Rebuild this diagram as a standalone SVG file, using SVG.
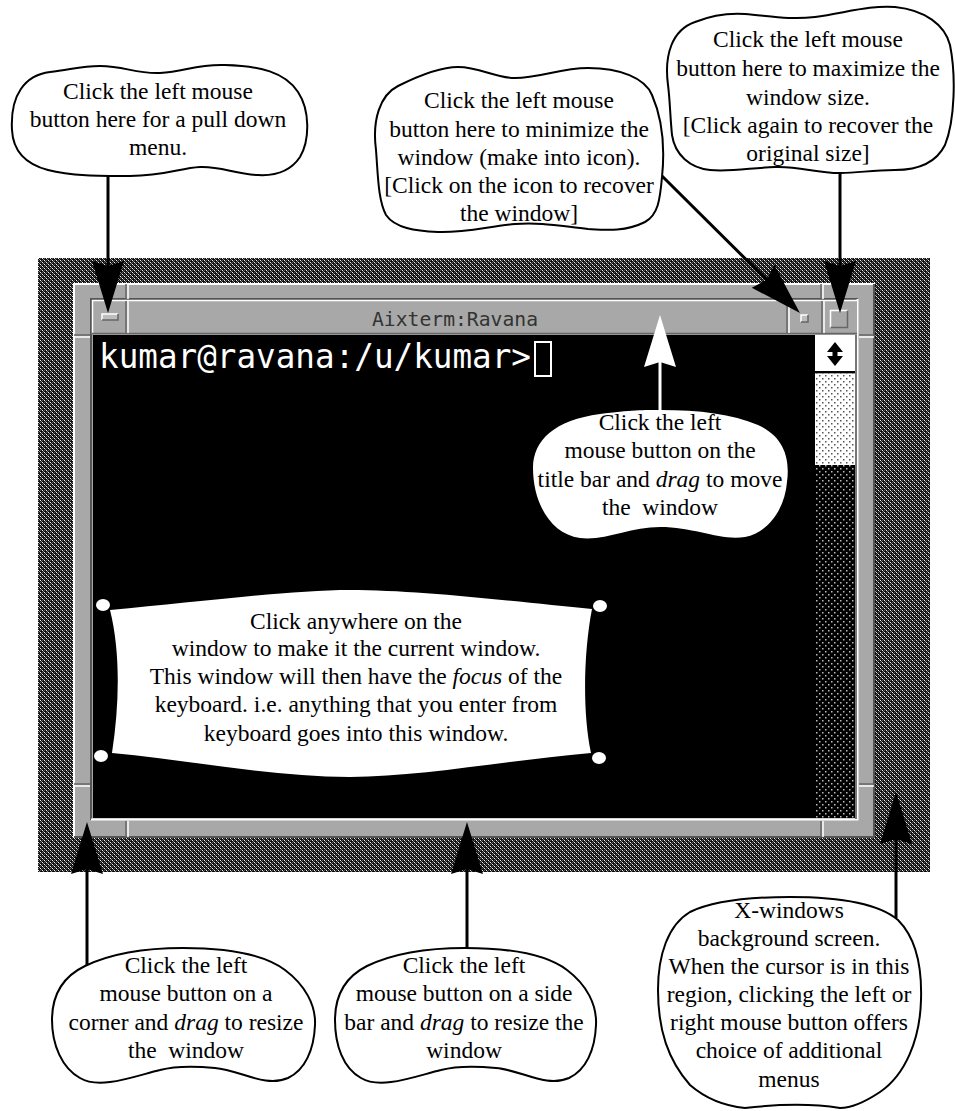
<svg xmlns="http://www.w3.org/2000/svg" width="955" height="1111" viewBox="0 0 955 1111">
<style>
.t{font-family:"Liberation Serif","Times New Roman",serif;font-size:23.5px;text-anchor:middle;fill:#000}
.i{font-style:italic}
.bub{fill:#fff;stroke:#000;stroke-width:2}
.con{stroke:#000;stroke-width:3;fill:none;marker-end:url(#ahB)}
.conw{stroke:#fff;stroke-width:3;fill:none;marker-end:url(#ahW)}
.hl{stroke:#fff;stroke-width:2;fill:none}
.sh{stroke:#555;stroke-width:2;fill:none}
.hl1{stroke:#fff;stroke-width:1.5;fill:none}
.sh1{stroke:#666;stroke-width:1.5;fill:none}
</style>
<defs>
<pattern id="hatch" width="4" height="4" patternUnits="userSpaceOnUse">
<rect width="4" height="4" fill="#111"/>
<rect x="0" y="0" width="1" height="1" fill="#f0f0f0"/>
<rect x="1" y="1" width="1" height="1" fill="#8a8a8a"/>
<rect x="2" y="2" width="1" height="1" fill="#f0f0f0"/>
<rect x="3" y="3" width="1" height="1" fill="#8a8a8a"/>
<rect x="2" y="0" width="1" height="1" fill="#555"/>
<rect x="0" y="2" width="1" height="1" fill="#555"/>
</pattern>
<pattern id="dotL" width="6" height="6" patternUnits="userSpaceOnUse">
<rect width="6" height="6" fill="#fff"/>
<rect x="0" y="0" width="1.5" height="1.5" fill="#555"/>
<rect x="3" y="3" width="1.5" height="1.5" fill="#555"/>
</pattern>
<pattern id="dotD" width="6" height="6" patternUnits="userSpaceOnUse">
<rect width="6" height="6" fill="#000"/>
<rect x="0" y="0" width="1.5" height="1.5" fill="#bbb"/>
<rect x="3" y="3" width="1.5" height="1.5" fill="#bbb"/>
</pattern>
<marker id="ahB" markerUnits="userSpaceOnUse" markerWidth="52" markerHeight="34" viewBox="0 0 52 34" refX="46" refY="17" orient="auto">
<path d="M0,1 L52,17 L0,33 L5,17 Z" fill="#000"/>
</marker>
<marker id="ahW" markerUnits="userSpaceOnUse" markerWidth="52" markerHeight="34" viewBox="0 0 52 34" refX="46" refY="17" orient="auto">
<path d="M0,1 L52,17 L0,33 L5,17 Z" fill="#fff"/>
</marker>
</defs>

<rect width="955" height="1111" fill="#fff"/>

<g id="background-screen">
<rect x="38" y="258" width="892" height="614" fill="url(#hatch)"/>
</g>

<g id="xterm-window">
<rect x="73" y="283" width="802" height="555" fill="#a8a8a8"/>
<path class="hl" d="M74,838 V284 H875"/>
<path class="sh" d="M874,284 V837 H74"/>
<path class="sh" d="M91,820 V299 H858"/>
<path class="hl" d="M857.5,299 V819.5 H91"/>
<path class="sh1" d="M126,284 V299 M821,284 V299 M126,821 V837 M821,821 V837"/>
<path class="hl1" d="M128,284 V299 M823,284 V299 M128,821 V837 M823,821 V837"/>
<path class="sh1" d="M74,335 H90 M74,784 H90 M859,335 H874 M859,784 H874"/>
<path class="hl1" d="M74,337 H90 M74,786 H90 M859,337 H874 M859,786 H874"/>
<rect x="92" y="300" width="765" height="35" fill="#a8a8a8"/>
<path class="hl1" d="M92.5,334 V300.5 H857"/>
<path class="sh1" d="M92,333.5 H857"/>
<path class="sh1" d="M126,301 V333"/>
<path class="hl1" d="M128,301 V333"/>
<path class="sh1" d="M787,301 V333 M822,301 V333"/>
<path class="hl1" d="M789,301 V333 M824,301 V333"/>
<rect x="102" y="314" width="16" height="6" fill="#bdbdbd"/>
<path class="hl1" d="M102,320 V314 H118"/>
<path class="sh1" d="M118,314 V320 H102"/>
<rect x="801" y="315" width="7" height="7" fill="#bdbdbd"/>
<path class="hl1" d="M801,322 V315 H808"/>
<path class="sh1" d="M808,315 V322 H801"/>
<rect x="830" y="310" width="18" height="18" fill="#a8a8a8"/>
<path class="hl1" d="M830.5,328 V310.5 H848"/>
<path class="sh1" d="M847.5,310.5 V327.5 H830.5"/>
<text x="372" y="326" font-family="DejaVu Sans Mono, Liberation Mono, monospace" font-size="20" fill="#333" textLength="166" lengthAdjust="spacingAndGlyphs">Aixterm:Ravana</text>
<rect x="93" y="335" width="722" height="483" fill="#000"/>
<text x="99" y="368" font-family="DejaVu Sans Mono, Liberation Mono, monospace" font-size="33" fill="#fff" textLength="432" lengthAdjust="spacingAndGlyphs">kumar@ravana:/u/kumar&gt;</text>
<rect x="535" y="342" width="16" height="34" fill="none" stroke="#fff" stroke-width="2"/>
<rect x="815" y="335" width="40" height="37" fill="#fff"/>
<path d="M827,352 L835,342 L843,352 H837.5 V356 H843 L835,366 L827,356 H832.5 V352 Z" fill="#000"/>
<rect x="815" y="371" width="40" height="2.5" fill="#000"/>
<rect x="815" y="373.5" width="40" height="91.5" fill="url(#dotL)"/>
<rect x="815" y="465" width="40" height="353" fill="url(#dotD)"/>
<rect x="855" y="335" width="2" height="484" fill="#777"/>
</g>

<g id="banner">
<path d="M110,610 C200,602 290,590 350,590 C420,590 520,602 592,609 C584,650 582,710 591,753 C510,760 420,777 350,777 C270,777 190,760 112,753 C120,700 120,650 110,610 Z" fill="#fff"/>
<ellipse cx="103" cy="605" rx="7" ry="6" fill="#fff"/>
<ellipse cx="600" cy="606" rx="7" ry="6" fill="#fff"/>
<ellipse cx="101" cy="756" rx="7" ry="6" fill="#fff"/>
<ellipse cx="599" cy="758" rx="7" ry="6" fill="#fff"/>
<text class="t" x="356" y="629">Click anywhere on the</text>
<text class="t" x="356" y="656">window to make it the current window.</text>
<text class="t" x="356" y="684">This window will then have the <tspan class="i">focus</tspan> of the</text>
<text class="t" x="356" y="712">keyboard. i.e. anything that you enter from</text>
<text class="t" x="356" y="741">keyboard goes into this window.</text>
</g>

<g id="connectors">
<path class="con" d="M108,176 V307"/>
<path class="con" d="M662,176 L795.7,308.8"/>
<path class="con" d="M840,173 V307"/>
<path class="conw" d="M660,411 V321"/>
<path class="con" d="M87,967 V828"/>
<path class="con" d="M467,948 V828"/>
<path class="con" d="M896,918 V798"/>
</g>

<g id="bubble-titlebar">
<path d="M533,468 C533,440 555,420 600,414 C630,410 645,410 660,410 C700,410 732,414 758,425 C785,437 790,460 787,482 C785,507 770,532 745,537 C720,541 695,527 660,527 C630,527 605,541 580,538 C550,534 533,502 533,468 Z" fill="#fff"/>
<text class="t" x="660" y="430">Click the left</text>
<text class="t" x="660" y="458">mouse button on the</text>
<text class="t" x="660" y="487">title bar and <tspan class="i">drag</tspan> to move</text>
<text class="t" x="660" y="515" xml:space="preserve">the  window</text>
</g>

<g id="bubble-menu">
<path class="bub" d="M12,130 C10,95 25,75 50,72 C70,70 80,66 100,66 C125,66 135,74 160,73 C185,72 195,64 225,65 C260,66 285,72 298,92 C310,110 310,140 300,157 C290,172 275,176 258,175 C235,174 220,166 200,167 C180,168 165,176 130,176 C100,176 70,176 48,170 C25,164 13,150 12,130 Z"/>
<text class="t" x="158" y="99">Click the left mouse</text>
<text class="t" x="158" y="127">button here for a pull down</text>
<text class="t" x="158" y="155">menu.</text>
</g>

<g id="bubble-minimize">
<path class="bub" d="M376,150 C372,120 380,95 398,86 C420,75 440,67 458,67 C480,67 495,78 515,78 C540,78 560,68 588,68 C620,68 645,78 652,95 C662,118 665,148 662,177 C660,200 658,215 645,222 C625,232 605,230 588,229 C560,226 540,222 515,224 C490,226 465,233 438,232 C415,231 395,228 386,215 C378,200 378,175 376,150 Z"/>
<text class="t" x="519" y="108">Click the left mouse</text>
<text class="t" x="519" y="137">button here to minimize the</text>
<text class="t" x="519" y="165">window (make into icon).</text>
<text class="t" x="519" y="193">[Click on the icon to recover</text>
<text class="t" x="519" y="221">the window]</text>
</g>

<g id="bubble-maximize">
<path class="bub" d="M668,85 C664,55 672,30 695,22 C715,14 730,13 745,14 C770,16 790,20 815,17 C845,13 870,5 895,7 C925,10 945,25 950,45 C956,75 955,120 945,145 C935,165 915,170 895,170 C870,170 860,173 840,173 C815,173 800,166 775,167 C750,168 730,172 710,170 C690,168 675,155 672,135 C670,115 670,100 668,85 Z"/>
<text class="t" x="808" y="47">Click the left mouse</text>
<text class="t" x="808" y="76">button here to maximize the</text>
<text class="t" x="808" y="105">window size.</text>
<text class="t" x="808" y="133">[Click again to recover the</text>
<text class="t" x="808" y="161">original size]</text>
</g>

<g id="bubble-corner">
<path class="bub" d="M183,948 C230,948 265,955 285,970 C305,985 316,1005 315,1025 C314,1050 305,1070 288,1078 C265,1088 240,1070 215,1068 C195,1066 175,1066 160,1070 C135,1076 100,1090 80,1078 C62,1068 52,1045 52,1020 C52,995 62,977 85,966 C110,954 145,948 183,948 Z"/>
<text class="t" x="186" y="973">Click the left</text>
<text class="t" x="186" y="1001">mouse button on a</text>
<text class="t" x="186" y="1030">corner and <tspan class="i">drag</tspan> to resize</text>
<text class="t" x="186" y="1058" xml:space="preserve">the  window</text>
</g>

<g id="bubble-side">
<path class="bub" d="M465,948 C512,948 547,955 567,970 C587,985 597,1005 596,1025 C595,1050 586,1070 569,1078 C546,1088 521,1070 496,1068 C476,1066 456,1066 441,1070 C416,1076 381,1090 361,1078 C343,1068 335,1045 335,1020 C335,995 345,977 367,966 C392,954 427,948 465,948 Z"/>
<text class="t" x="464" y="973">Click the left</text>
<text class="t" x="464" y="1001">mouse button on a side</text>
<text class="t" x="464" y="1030">bar and <tspan class="i">drag</tspan> to resize the</text>
<text class="t" x="464" y="1058">window</text>
</g>

<g id="bubble-background">
<path class="bub" d="M790,897 C840,897 878,903 898,920 C918,940 922,970 921,1000 C920,1040 905,1075 880,1092 C862,1104 848,1108 840,1108 C815,1104 780,1104 745,1108 C725,1106 705,1098 690,1085 C668,1060 658,1030 658,990 C658,955 668,925 690,912 C715,900 750,897 790,897 Z"/>
<text class="t" x="789" y="918">X-windows</text>
<text class="t" x="789" y="946">background screen.</text>
<text class="t" x="789" y="974">When the cursor is in this</text>
<text class="t" x="789" y="1002">region, clicking the left or</text>
<text class="t" x="789" y="1030">right mouse button offers</text>
<text class="t" x="789" y="1058">choice of additional</text>
<text class="t" x="789" y="1087">menus</text>
</g>
</svg>
